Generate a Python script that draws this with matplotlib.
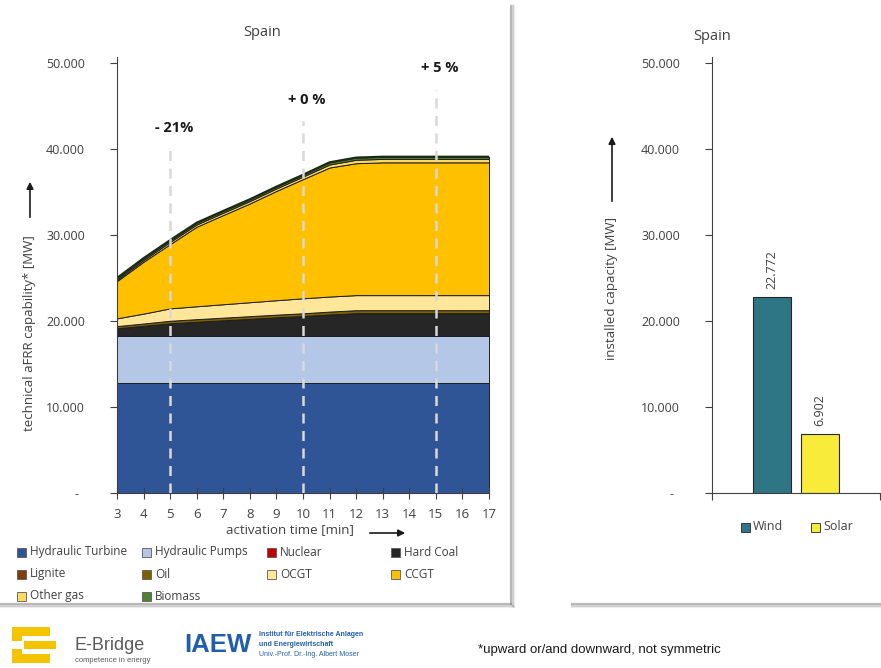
import numpy as np
import matplotlib
matplotlib.use("Agg")
import matplotlib.pyplot as plt
from matplotlib.patches import Rectangle

plt.rcParams["font.family"] = ["Open Sans", "DejaVu Sans"]

W, H = 881, 668

# ─────────────────────────────────────────────────────────────────────────────
# Data (MW)
# ─────────────────────────────────────────────────────────────────────────────
activation_time = [3, 4, 5, 6, 7, 8, 9, 10, 11, 12, 13, 14, 15, 16, 17]

hydraulic_turbine = [12790] * 15
hydraulic_pumps   = [5470] * 15
nuclear           = [0] * 15
hard_coal = [900, 1180, 1470, 1650, 1820, 1990, 2160, 2320, 2500, 2650, 2650, 2650, 2650, 2650, 2650]
lignite   = [0] * 15
oil       = [250, 270, 300, 305, 310, 315, 318, 320, 335, 350, 350, 350, 350, 350, 350]
ocgt      = [900, 1150, 1440, 1500, 1560, 1620, 1680, 1740, 1750, 1750, 1750, 1750, 1750, 1750, 1750]
ccgt      = [4340, 6040, 7480, 9255, 10380, 11485, 12712, 13860, 15005, 15340, 15440, 15440, 15440, 15440, 15440]
other_gas = [150, 200, 250, 260, 270, 280, 290, 300, 350, 400, 400, 400, 400, 400, 400]
biomass   = [200, 200, 200, 200, 200, 200, 200, 200, 250, 250, 250, 250, 250, 250, 250]

tech_labels = ["Hydraulic Turbine", "Hydraulic Pumps", "Nuclear", "Hard Coal",
               "Lignite", "Oil", "OCGT", "CCGT", "Other gas", "Biomass"]
tech_colors = ["#2F5597", "#B4C7E7", "#C00000", "#262626",
               "#843C0C", "#7F6000", "#FFE699", "#FFC000", "#FFD966", "#548235"]

marker_times  = [5, 10, 15]
marker_labels = ["- 21%", "+ 0 %", "+ 5 %"]
marker_line_top = [40000, 43200, 46900]
marker_text_y   = [42400, 45700, 49400]

res_labels = ["Wind", "Solar"]
res_values = [22772, 6902]
res_colors = ["#2E7585", "#F8EB3A"]


def fx(px):
    return px / W


def fy(py):
    return 1 - py / H


def fmt(v):
    return "-  " if v == 0 else f"{v:,.0f}".replace(",", ".")


TXT = "#404040"
yticks = [0, 10000, 20000, 30000, 40000, 50000]
ytop = 50700

fig = plt.figure(figsize=(W / 100, H / 100), dpi=100)

# ─────────────────────────────────────────────────────────────────────────────
# Panel shadows
# ─────────────────────────────────────────────────────────────────────────────
for off, a in [(0, 0.55), (1.5, 0.3), (3, 0.12)]:
    fig.add_artist(plt.Line2D([fx(511 + off)] * 2, [fy(6), fy(604 + off)],
                              color="#808080", alpha=a, lw=1.6))
    fig.add_artist(plt.Line2D([fx(0), fx(511 + off)], [fy(604 + off)] * 2,
                              color="#808080", alpha=a, lw=1.6))
    fig.add_artist(plt.Line2D([fx(572), fx(881)], [fy(604 + off)] * 2,
                              color="#808080", alpha=a, lw=1.6))

# ─────────────────────────────────────────────────────────────────────────────
# Left: stacked area
# ─────────────────────────────────────────────────────────────────────────────
ax = fig.add_axes([fx(117), fy(493), fx(489) - fx(117), fy(57) - fy(493)])
layers = [hydraulic_turbine, hydraulic_pumps, nuclear, hard_coal, lignite,
          oil, ocgt, ccgt, other_gas, biomass]
ax.stackplot(activation_time, *layers, colors=tech_colors,
             edgecolor="#1f1f1f", linewidth=0.7)
top = np.sum(np.array(layers), axis=0)
ax.plot(activation_time, top, color="#1c2a14", lw=1.6)

for t, lab, ltop, ty in zip(marker_times, marker_labels, marker_line_top, marker_text_y):
    ax.plot([t, t], [0, ltop], color="#d9d9d9", lw=1.8, ls=(0, (4, 3)), zorder=5)
    ax.text(t + 0.15, ty, lab, ha="center", va="center", fontsize=10.5,
            fontweight="bold", color="#1a1a1a")

ax.set_xlim(3, 17)
ax.set_ylim(0, ytop)
ax.set_xticks(activation_time)
ax.set_yticks(yticks)
ax.set_yticklabels([fmt(v) for v in yticks])
for s in ["top", "right"]:
    ax.spines[s].set_visible(False)
ax.spines["left"].set_color("#404040")
ax.spines["bottom"].set_color("#404040")
ax.tick_params(axis="y", length=5, pad=18, labelsize=9, colors="#404040", labelcolor=TXT)
ax.tick_params(axis="x", direction="inout", length=8, pad=7, labelsize=9.5,
               colors="#404040", labelcolor=TXT)

fig.text(fx(262), fy(33), "Spain", ha="center", va="center", fontsize=10.5, color=TXT)
fig.text(fx(30), fy(333), "technical aFRR capability* [MW]", rotation=90,
         ha="center", va="center", fontsize=9.5, color=TXT)
fig.add_artist(plt.Annotation("", xy=(fx(30), fy(179)), xytext=(fx(30), fy(220)),
                              xycoords="figure fraction",
                              arrowprops=dict(arrowstyle="-|>", color="#1a1a1a", lw=1.2)))
fig.text(fx(290), fy(530), "activation time [min]", ha="center", va="center",
         fontsize=9.5, color=TXT)
fig.add_artist(plt.Annotation("", xy=(fx(408), fy(533)), xytext=(fx(367), fy(533)),
                              xycoords="figure fraction",
                              arrowprops=dict(arrowstyle="-|>", color="#1a1a1a", lw=1.2)))

# legend, 4 fixed-width columns
col_x = [17, 142, 267, 391]
row_y = [552, 574, 596]
for i, (lab, col) in enumerate(zip(tech_labels, tech_colors)):
    cx, ry = col_x[i % 4], row_y[i // 4]
    fig.add_artist(Rectangle((fx(cx), fy(ry + 4.5)), fx(9), 9 / H, facecolor=col,
                             edgecolor="#595959", lw=0.6))
    fig.text(fx(cx + 13), fy(ry), lab, ha="left", va="center", fontsize=8.5, color=TXT)

# ─────────────────────────────────────────────────────────────────────────────
# Right: installed RES capacity
# ─────────────────────────────────────────────────────────────────────────────
ax2 = fig.add_axes([fx(712), fy(493), fx(880) - fx(712), fy(57) - fy(493)])
pos = np.arange(len(res_values))
bars = ax2.bar(pos, res_values, width=0.79, color=res_colors,
               edgecolor="#262626", lw=0.8)
for p, v in zip(pos, res_values):
    ax2.text(p, v + 900, fmt(v), rotation=90, ha="center", va="bottom",
             fontsize=9, color=TXT)
ax2.set_xlim(-1.25, 2.25)
ax2.set_ylim(0, ytop)
ax2.set_xticks([-1.25, 2.25])
ax2.set_xticklabels(["", ""])
ax2.set_yticks(yticks)
ax2.set_yticklabels([fmt(v) for v in yticks])
for s in ["top", "right"]:
    ax2.spines[s].set_visible(False)
ax2.spines["left"].set_color("#404040")
ax2.spines["bottom"].set_color("#404040")
ax2.tick_params(axis="y", length=5, pad=18, labelsize=9, colors="#404040", labelcolor=TXT)
ax2.tick_params(axis="x", length=5, colors="#404040")

fig.text(fx(712), fy(36), "Spain", ha="center", va="center", fontsize=10.5, color=TXT)
fig.text(fx(612), fy(288), "installed capacity [MW]", rotation=90,
         ha="center", va="center", fontsize=9.5, color=TXT)
fig.add_artist(plt.Annotation("", xy=(fx(612), fy(134)), xytext=(fx(612), fy(204)),
                              xycoords="figure fraction",
                              arrowprops=dict(arrowstyle="-|>", color="#1a1a1a", lw=1.2)))
for lab, col, cx in zip(res_labels, res_colors, [741, 811]):
    fig.add_artist(Rectangle((fx(cx), fy(531.5)), fx(9), 9 / H, facecolor=col,
                             edgecolor="#262626", lw=0.6))
    fig.text(fx(cx + 12), fy(527), lab, ha="left", va="center", fontsize=9, color=TXT)

# ─────────────────────────────────────────────────────────────────────────────
# Footer: logos + footnote
# ─────────────────────────────────────────────────────────────────────────────
for (x0, y0, x1, y1) in [(12, 627, 50, 636), (12, 636, 22, 641), (24, 641, 56, 649),
                         (12, 649, 22, 654), (12, 654, 50, 663)]:
    fig.add_artist(Rectangle((fx(x0), fy(y1)), fx(x1 - x0), (y1 - y0) / H,
                             facecolor="#F5C400", edgecolor="none"))
fig.text(fx(74), fy(645), "E-Bridge", ha="left", va="center", fontsize=13,
         color="#5a5a5a", family=["Liberation Sans", "DejaVu Sans"])
fig.text(fx(75), fy(661), "competence in energy", ha="left", va="center", fontsize=5.5,
         color="#5a5a5a", family=["Liberation Sans", "DejaVu Sans"])
fig.text(fx(184), fy(645), "IAEW", ha="left", va="center", fontsize=18.5, fontweight="bold",
         color="#1F5FAD", family=["Liberation Sans Narrow", "Liberation Sans", "DejaVu Sans"])
for ty, t, w in [(635, "Institut für Elektrische Anlagen", "bold"),
                 (645, "und Energiewirtschaft", "bold"),
                 (655, "Univ.-Prof. Dr.-Ing. Albert Moser", "normal")]:
    fig.text(fx(259), fy(ty), t, ha="left", va="center", fontsize=5, fontweight=w,
             color="#1F5FAD", family=["Liberation Sans Narrow", "Liberation Sans", "DejaVu Sans"])
fig.text(fx(478), fy(650), "*upward or/and downward, not symmetric", ha="left", va="center",
         fontsize=9.5, color="#1a1a1a",
         family=["Liberation Sans Narrow", "Liberation Sans", "DejaVu Sans"])

fig.savefig("out.png", dpi=100)
